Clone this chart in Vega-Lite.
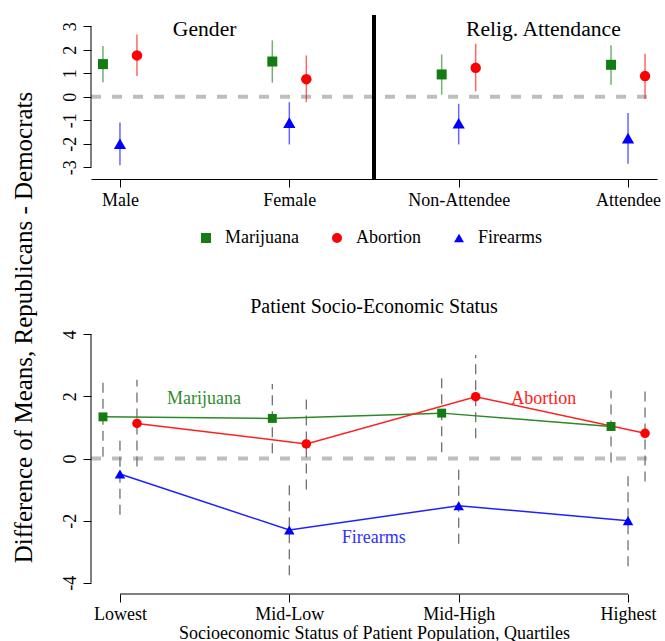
{
  "$schema": "https://vega.github.io/schema/vega-lite/v6.json",
  "padding": {"left": 11, "top": 13, "right": 5, "bottom": 5},
  "bounds": "flush",
  "spacing": 144,
  "config": {
    "view": {"stroke": null},
    "font": "Liberation Serif",
    "axis": {"grid": false, "labelFont": "Liberation Serif", "titleFont": "Liberation Serif", "labelColor": "black", "titleColor": "black", "domainColor": "black", "tickColor": "black", "titleFontWeight": "normal", "labelFlush": false, "labelOverlap": false},
    "legend": {"labelFont": "Liberation Serif", "labelFontSize": 18, "labelColor": "black"},
    "title": {"font": "Liberation Serif", "fontWeight": "normal", "color": "black"}
  },
  "resolve": {"scale": {"color": "independent", "shape": "independent"}},
  "datasets": {
    "top": [
      {"cat": "Male", "pos": 1, "issue": "Marijuana", "mean": 1.39, "lo": 0.62, "hi": 2.16},
      {"cat": "Male", "pos": 1, "issue": "Abortion", "mean": 1.76, "lo": 0.88, "hi": 2.65},
      {"cat": "Male", "pos": 1, "issue": "Firearms", "mean": -2.0, "lo": -2.92, "hi": -1.1},
      {"cat": "Female", "pos": 2, "issue": "Marijuana", "mean": 1.5, "lo": 0.6, "hi": 2.4},
      {"cat": "Female", "pos": 2, "issue": "Abortion", "mean": 0.75, "lo": -0.23, "hi": 1.76},
      {"cat": "Female", "pos": 2, "issue": "Firearms", "mean": -1.1, "lo": -2.03, "hi": -0.23},
      {"cat": "Non-Attendee", "pos": 3, "issue": "Marijuana", "mean": 0.95, "lo": 0.09, "hi": 1.8},
      {"cat": "Non-Attendee", "pos": 3, "issue": "Abortion", "mean": 1.23, "lo": 0.23, "hi": 2.26},
      {"cat": "Non-Attendee", "pos": 3, "issue": "Firearms", "mean": -1.13, "lo": -2.03, "hi": -0.3},
      {"cat": "Attendee", "pos": 4, "issue": "Marijuana", "mean": 1.36, "lo": 0.51, "hi": 2.19},
      {"cat": "Attendee", "pos": 4, "issue": "Abortion", "mean": 0.88, "lo": -0.09, "hi": 1.83},
      {"cat": "Attendee", "pos": 4, "issue": "Firearms", "mean": -1.76, "lo": -2.85, "hi": -0.69}
    ],
    "bottom": [
      {"cat": "Lowest", "pos": 1, "issue": "Marijuana", "mean": 1.34, "lo": 0.06, "hi": 2.53},
      {"cat": "Lowest", "pos": 1, "issue": "Abortion", "mean": 1.13, "lo": -0.26, "hi": 2.53},
      {"cat": "Lowest", "pos": 1, "issue": "Firearms", "mean": -0.5, "lo": -1.81, "hi": 0.68},
      {"cat": "Mid-Low", "pos": 2, "issue": "Marijuana", "mean": 1.29, "lo": 0.17, "hi": 2.4},
      {"cat": "Mid-Low", "pos": 2, "issue": "Abortion", "mean": 0.47, "lo": -1.0, "hi": 1.94},
      {"cat": "Mid-Low", "pos": 2, "issue": "Firearms", "mean": -2.3, "lo": -3.76, "hi": -0.85},
      {"cat": "Mid-High", "pos": 3, "issue": "Marijuana", "mean": 1.46, "lo": 0.2, "hi": 2.64},
      {"cat": "Mid-High", "pos": 3, "issue": "Abortion", "mean": 1.99, "lo": 0.65, "hi": 3.33},
      {"cat": "Mid-High", "pos": 3, "issue": "Firearms", "mean": -1.52, "lo": -2.74, "hi": -0.31},
      {"cat": "Highest", "pos": 4, "issue": "Marijuana", "mean": 1.03, "lo": -0.13, "hi": 2.19},
      {"cat": "Highest", "pos": 4, "issue": "Abortion", "mean": 0.81, "lo": -0.74, "hi": 2.34},
      {"cat": "Highest", "pos": 4, "issue": "Firearms", "mean": -2.0, "lo": -3.47, "hi": -0.56}
    ]
  },
  "vconcat": [
    {
      "width": 566,
      "height": 164,
      "layer": [
        {
          "data": {"values": [{}]},
          "mark": {"type": "rule", "color": "#bebebe", "strokeWidth": 4, "strokeDash": [10, 11]},
          "encoding": {
            "x": {"datum": 0.829, "type": "quantitative", "scale": {"domain": [0.829, 4.171], "nice": false, "zero": false}, "axis": {"values": [1, 2, 3, 4], "tickCount": 10, "labelExpr": "['','Male','Female','Non-Attendee','Attendee'][datum.value]", "title": null, "domain": true, "ticks": true, "tickSize": 8, "labelPadding": 18, "labelBaseline": "alphabetic", "labelFontSize": 18, "labelOverlap": false}},
            "x2": {"datum": 4.171},
            "y": {"datum": 0, "type": "quantitative", "scale": {"domain": [-3.5, 3.48], "nice": false, "zero": false}}
          }
        },
        {
          "data": {"values": [{}]},
          "mark": {"type": "rule", "color": "black", "strokeWidth": 4},
          "encoding": {
            "x": {"datum": 2.5},
            "y": {"datum": -3.5},
            "y2": {"datum": 3.48}
          }
        },
        {
          "data": {"values": [{}]},
          "mark": {"type": "rule", "color": "black", "strokeWidth": 1},
          "encoding": {
            "x": {"datum": 0.829},
            "y": {"datum": -3},
            "y2": {"datum": 3}
          }
        },
        {
          "data": {"name": "top"},
          "transform": [{"filter": "datum.issue === 'Marijuana'"}],
          "mark": {"type": "rule", "color": "#137d13", "strokeWidth": 1.5, "opacity": 0.6, "xOffset": -17},
          "encoding": {
            "x": {"field": "pos", "type": "quantitative"},
            "y": {"field": "lo", "type": "quantitative"},
            "y2": {"field": "hi"}
          }
        },
        {
          "data": {"name": "top"},
          "transform": [{"filter": "datum.issue === 'Abortion'"}],
          "mark": {"type": "rule", "color": "#ff0000", "strokeWidth": 1.5, "opacity": 0.6, "xOffset": 17},
          "encoding": {
            "x": {"field": "pos", "type": "quantitative"},
            "y": {"field": "lo", "type": "quantitative"},
            "y2": {"field": "hi"}
          }
        },
        {
          "data": {"name": "top"},
          "transform": [{"filter": "datum.issue === 'Firearms'"}],
          "mark": {"type": "rule", "color": "#0000ff", "strokeWidth": 1.5, "opacity": 0.6},
          "encoding": {
            "x": {"field": "pos", "type": "quantitative"},
            "y": {"field": "lo", "type": "quantitative"},
            "y2": {"field": "hi"}
          }
        },
        {
          "data": {"name": "top"},
          "transform": [{"filter": "datum.issue === 'Marijuana'"}],
          "mark": {"type": "point", "filled": true, "opacity": 1, "size": 100, "xOffset": -17, "strokeWidth": 0},
          "encoding": {
            "x": {"field": "pos", "type": "quantitative"},
            "y": {"field": "mean", "type": "quantitative", "axis": {"values": [-3, -2, -1, 0, 1, 2, 3], "tickCount": 20, "labelExpr": "'' + datum.value", "domain": false, "tickSize": 8, "labelAngle": -90, "labelAlign": "center", "labelBaseline": "alphabetic", "labelPadding": 8, "labelFontSize": 18, "labelOverlap": false, "title": "Difference of Means, Republicans - Democrats", "titleFontSize": 25, "titleX": -59.5, "titleY": 312, "titleAngle": -90, "titleAlign": "center", "titleBaseline": "alphabetic"}},
            "color": {"field": "issue", "type": "nominal", "scale": {"domain": ["Marijuana", "Abortion", "Firearms"], "range": ["#137d13", "#ff0000", "#0000ff"]}, "legend": {"orient": "none", "legendX": 106, "legendY": 214, "direction": "horizontal", "title": null, "labelFontSize": 18, "labelFont": "Liberation Serif", "labelColor": "black", "symbolSize": 100, "symbolStrokeWidth": 0, "labelOffset": 10, "columnPadding": 29, "padding": 0}},
            "shape": {"field": "issue", "type": "nominal", "scale": {"domain": ["Marijuana", "Abortion", "Firearms"], "range": ["square", "circle", "triangle-up"]}, "legend": {"orient": "none", "legendX": 106, "legendY": 214, "direction": "horizontal", "title": null, "labelFontSize": 18, "labelFont": "Liberation Serif", "labelColor": "black", "symbolSize": 100, "symbolStrokeWidth": 0, "labelOffset": 10, "columnPadding": 29, "padding": 0}}
          }
        },
        {
          "data": {"name": "top"},
          "transform": [{"filter": "datum.issue === 'Abortion'"}],
          "mark": {"type": "point", "filled": true, "opacity": 1, "size": 110, "xOffset": 17, "strokeWidth": 0},
          "encoding": {
            "x": {"field": "pos", "type": "quantitative"},
            "y": {"field": "mean", "type": "quantitative"},
            "color": {"field": "issue", "type": "nominal"},
            "shape": {"field": "issue", "type": "nominal"}
          }
        },
        {
          "data": {"name": "top"},
          "transform": [{"filter": "datum.issue === 'Firearms'"}],
          "mark": {"type": "point", "filled": true, "opacity": 1, "size": 150, "strokeWidth": 0},
          "encoding": {
            "x": {"field": "pos", "type": "quantitative"},
            "y": {"field": "mean", "type": "quantitative"},
            "color": {"field": "issue", "type": "nominal"},
            "shape": {"field": "issue", "type": "nominal"}
          }
        },
        {
          "data": {"values": [{}]},
          "mark": {"type": "text", "text": "Gender", "font": "Liberation Serif", "fontSize": 21.6, "color": "black", "baseline": "alphabetic", "align": "center"},
          "encoding": {"x": {"datum": 1.5}, "y": {"datum": 2.6}}
        },
        {
          "data": {"values": [{}]},
          "mark": {"type": "text", "text": "Relig. Attendance", "font": "Liberation Serif", "fontSize": 21.6, "color": "black", "baseline": "alphabetic", "align": "center"},
          "encoding": {"x": {"datum": 3.5}, "y": {"datum": 2.6}}
        }
      ]
    },
    {
      "width": 566,
      "height": 271,
      "title": {"text": "Patient Socio-Economic Status", "font": "Liberation Serif", "fontSize": 20, "fontWeight": "normal", "color": "black", "anchor": "middle", "frame": "group", "baseline": "alphabetic", "offset": -9.5},
      "layer": [
        {
          "data": {"values": [{}]},
          "mark": {"type": "rule", "color": "#bebebe", "strokeWidth": 4, "strokeDash": [10, 11]},
          "encoding": {
            "x": {"datum": 0.829, "type": "quantitative", "scale": {"domain": [0.829, 4.171], "nice": false, "zero": false}, "axis": {"values": [1, 2, 3, 4], "tickCount": 10, "labelExpr": "['','Lowest','Mid-Low','Mid-High','Highest'][datum.value]", "domain": false, "ticks": true, "tickSize": 8, "labelPadding": 17, "labelBaseline": "alphabetic", "labelFontSize": 18, "labelOverlap": false, "title": "Socioeconomic Status of Patient Population, Quartiles", "titleFontSize": 18, "titleBaseline": "alphabetic", "titleY": 44.5}},
            "x2": {"datum": 4.171},
            "y": {"datum": 0, "type": "quantitative", "scale": {"domain": [-4.36, 4.36], "nice": false, "zero": false}, "axis": {"values": [-4, -2, 0, 2, 4], "tickCount": 10, "labelExpr": "'' + datum.value", "domain": false, "tickSize": 8, "labelAngle": -90, "labelAlign": "center", "labelBaseline": "alphabetic", "labelPadding": 8, "labelFontSize": 18, "labelOverlap": false, "title": null}}
          }
        },
        {
          "data": {"values": [{}]},
          "mark": {"type": "rule", "color": "black", "strokeWidth": 1},
          "encoding": {
            "x": {"datum": 0.829},
            "y": {"datum": -4},
            "y2": {"datum": 4}
          }
        },
        {
          "data": {"values": [{}]},
          "mark": {"type": "rule", "color": "black", "strokeWidth": 1},
          "encoding": {
            "x": {"datum": 1},
            "x2": {"datum": 4},
            "y": {"datum": -4.36}
          }
        },
        {
          "data": {"name": "bottom"},
          "transform": [{"filter": "datum.issue === 'Marijuana'"}],
          "mark": {"type": "rule", "color": "#707070", "strokeWidth": 1.3, "strokeDash": [10, 6], "xOffset": -17},
          "encoding": {
            "x": {"field": "pos", "type": "quantitative"},
            "y": {"field": "lo", "type": "quantitative"},
            "y2": {"field": "hi"}
          }
        },
        {
          "data": {"name": "bottom"},
          "transform": [{"filter": "datum.issue === 'Abortion'"}],
          "mark": {"type": "rule", "color": "#707070", "strokeWidth": 1.3, "strokeDash": [10, 6], "xOffset": 17},
          "encoding": {
            "x": {"field": "pos", "type": "quantitative"},
            "y": {"field": "lo", "type": "quantitative"},
            "y2": {"field": "hi"}
          }
        },
        {
          "data": {"name": "bottom"},
          "transform": [{"filter": "datum.issue === 'Firearms'"}],
          "mark": {"type": "rule", "color": "#707070", "strokeWidth": 1.3, "strokeDash": [10, 6]},
          "encoding": {
            "x": {"field": "pos", "type": "quantitative"},
            "y": {"field": "lo", "type": "quantitative"},
            "y2": {"field": "hi"}
          }
        },
        {
          "data": {"name": "bottom"},
          "transform": [{"filter": "datum.issue === 'Marijuana'"}],
          "mark": {"type": "line", "color": "#2a8a2a", "strokeWidth": 1.5, "xOffset": -17},
          "encoding": {
            "x": {"field": "pos", "type": "quantitative"},
            "y": {"field": "mean", "type": "quantitative"}
          }
        },
        {
          "data": {"name": "bottom"},
          "transform": [{"filter": "datum.issue === 'Abortion'"}],
          "mark": {"type": "line", "color": "#ff2020", "strokeWidth": 1.5, "xOffset": 17},
          "encoding": {
            "x": {"field": "pos", "type": "quantitative"},
            "y": {"field": "mean", "type": "quantitative"}
          }
        },
        {
          "data": {"name": "bottom"},
          "transform": [{"filter": "datum.issue === 'Firearms'"}],
          "mark": {"type": "line", "color": "#2020ff", "strokeWidth": 1.5},
          "encoding": {
            "x": {"field": "pos", "type": "quantitative"},
            "y": {"field": "mean", "type": "quantitative"}
          }
        },
        {
          "data": {"name": "bottom"},
          "transform": [{"filter": "datum.issue === 'Marijuana'"}],
          "mark": {"type": "point", "shape": "square", "filled": true, "opacity": 1, "size": 80, "color": "#137d13", "strokeWidth": 0, "xOffset": -17},
          "encoding": {
            "x": {"field": "pos", "type": "quantitative"},
            "y": {"field": "mean", "type": "quantitative"}
          }
        },
        {
          "data": {"name": "bottom"},
          "transform": [{"filter": "datum.issue === 'Abortion'"}],
          "mark": {"type": "point", "shape": "circle", "filled": true, "opacity": 1, "size": 90, "color": "#ff0000", "strokeWidth": 0, "xOffset": 17},
          "encoding": {
            "x": {"field": "pos", "type": "quantitative"},
            "y": {"field": "mean", "type": "quantitative"}
          }
        },
        {
          "data": {"name": "bottom"},
          "transform": [{"filter": "datum.issue === 'Firearms'"}],
          "mark": {"type": "point", "shape": "triangle-up", "filled": true, "opacity": 1, "size": 110, "color": "#0000ff", "strokeWidth": 0},
          "encoding": {
            "x": {"field": "pos", "type": "quantitative"},
            "y": {"field": "mean", "type": "quantitative"}
          }
        },
        {
          "data": {"values": [{}]},
          "mark": {"type": "text", "text": "Marijuana", "font": "Liberation Serif", "fontSize": 18, "color": "#2e8b2e", "baseline": "alphabetic", "align": "center"},
          "encoding": {"x": {"datum": 1.496}, "y": {"datum": 1.76}}
        },
        {
          "data": {"values": [{}]},
          "mark": {"type": "text", "text": "Abortion", "font": "Liberation Serif", "fontSize": 18, "color": "#ff2020", "baseline": "alphabetic", "align": "center"},
          "encoding": {"x": {"datum": 3.502}, "y": {"datum": 1.75}}
        },
        {
          "data": {"values": [{}]},
          "mark": {"type": "text", "text": "Firearms", "font": "Liberation Serif", "fontSize": 18, "color": "#3030ff", "baseline": "alphabetic", "align": "center"},
          "encoding": {"x": {"datum": 2.499}, "y": {"datum": -2.72}}
        }
      ]
    }
  ]
}
